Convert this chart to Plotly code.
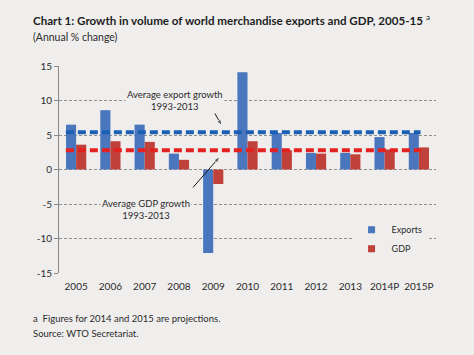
import plotly.graph_objects as go

categories = ["2005", "2006", "2007", "2008", "2009", "2010", "2011", "2012", "2013", "2014P", "2015P"]
exports = [6.5, 8.6, 6.5, 2.3, -12.1, 14.1, 5.3, 2.4, 2.4, 4.7, 5.3]
gdp = [3.6, 4.1, 4.0, 1.4, -2.1, 4.1, 2.8, 2.3, 2.2, 2.9, 3.2]
avg_export = 5.4
avg_gdp = 2.8
y_ticks = [-15, -10, -5, 0, 5, 10, 15]
y_ticklabels = ["-15", "-10", "-5", "0", "5", "10", "15"]

BG = "#efeeed"
TXT = "#2b2b2b"
FONT = "Lato"
idx = list(range(len(categories)))

fig = go.Figure()
fig.add_trace(go.Bar(x=idx, y=exports, name="Exports", marker_color="#4a76be",
                     marker_line_width=0, showlegend=False))
fig.add_trace(go.Bar(x=idx, y=gdp, name="GDP", marker_color="#c0403a",
                     marker_line_width=0, showlegend=False))
# average lines
span = [idx[0] - 0.3, idx[-1] + 0.05]
fig.add_trace(go.Scatter(x=span, y=[avg_export, avg_export], mode="lines",
                         line=dict(color="#1a5fb4", width=4, dash="8px,4px"),
                         showlegend=False, hoverinfo="skip"))
fig.add_trace(go.Scatter(x=span, y=[avg_gdp, avg_gdp], mode="lines",
                         line=dict(color="#e3211f", width=4, dash="8px,4px"),
                         showlegend=False, hoverinfo="skip"))
# pointer arrows (tail -> head)
for ax_, ay_ in (([3.91, 4.26], [9.3, 6.3]), ([3.41, 4.2], [-2.6, 1.9])):
    fig.add_trace(go.Scatter(x=ax_, y=ay_, mode="lines+markers",
                             line=dict(color="#1a1a1a", width=1),
                             marker=dict(symbol=["circle", "arrow"], size=[0, 7],
                                         angleref="previous", color="#1a1a1a"),
                             showlegend=False, hoverinfo="skip"))
# legend entries
fig.add_trace(go.Scatter(x=[None], y=[None], mode="markers", name="Exports",
                         marker=dict(symbol="square", size=7, color="#4a76be")))
fig.add_trace(go.Scatter(x=[None], y=[None], mode="markers", name="GDP",
                         marker=dict(symbol="square", size=7, color="#c0403a")))

fig.update_layout(
    width=474, height=355,
    margin=dict(l=59, r=38, t=66, b=82),
    paper_bgcolor=BG, plot_bgcolor=BG,
    font=dict(family=FONT, size=10, color=TXT),
    barmode="group", bargap=0.41, bargroupgap=0,
    showlegend=True,
    legend=dict(x=0.776, y=0.279, xanchor="left", yanchor="top",
                bgcolor=BG, font=dict(size=9, color=TXT),
                tracegroupgap=0, itemwidth=30),
    xaxis=dict(range=[-0.5, len(categories) - 0.5], tickvals=idx, ticktext=categories,
               showgrid=False, zeroline=False, showline=False, ticks="",
               ticklabelstandoff=6,
               tickfont=dict(size=10, color=TXT)),
    xaxis2=dict(overlaying="x", anchor="free", position=0.5,
                range=[-0.5, len(categories) - 0.5],
                tickvals=[i - 0.5 for i in range(len(categories) + 1)],
                showticklabels=False, ticks="outside", ticklen=4, tickcolor="#8a8a8a",
                showline=True, linecolor="#8a8a8a", linewidth=1,
                showgrid=False, zeroline=False),
    yaxis=dict(range=[-15, 15], tickvals=y_ticks, ticktext=y_ticklabels,
               showline=True, linecolor="#8a8a8a",
               ticks="outside", ticklen=4, tickcolor="#8a8a8a",
               showgrid=True, gridcolor="#8f8f8f", gridwidth=1, griddash="3px,2px",
               zeroline=False, tickfont=dict(size=10, color=TXT)),
)

# titles and notes
fig.add_annotation(xref="paper", yref="paper", x=-0.075, y=1.225, xanchor="left", yanchor="middle",
                   text="<b>Chart 1: Growth in volume of world merchandise exports and GDP, 2005-15</b>"
                        " <sup>a</sup>",
                   showarrow=False, font=dict(size=11.6, color="#1e1e1e"))
fig.add_annotation(xref="paper", yref="paper", x=-0.075, y=1.14, xanchor="left", yanchor="middle",
                   text="(Annual % change)", showarrow=False, font=dict(size=10.5, color=TXT))
fig.add_annotation(xref="paper", yref="paper", x=-0.075, y=-0.22, xanchor="left", yanchor="middle",
                   text="a  Figures for 2014 and 2015 are projections.", showarrow=False,
                   font=dict(size=9.5, color=TXT))
fig.add_annotation(xref="paper", yref="paper", x=-0.075, y=-0.292, xanchor="left", yanchor="middle",
                   text="Source: WTO Secretariat.", showarrow=False,
                   font=dict(size=9.5, color=TXT))

# labels for averages
fig.add_annotation(x=2.88, y=10.0, text="Average export growth<br>1993-2013", showarrow=False,
                   bgcolor=BG, borderpad=1, font=dict(size=9.5, color=TXT), align="center")
fig.add_annotation(x=2.03, y=-5.8, text="Average GDP growth<br>1993-2013", showarrow=False,
                   bgcolor=BG, borderpad=1, font=dict(size=9.5, color=TXT), align="center")

fig.write_html("out.html", config={"displayModeBar": False},
               post_script="document.body.style.margin='0';")
